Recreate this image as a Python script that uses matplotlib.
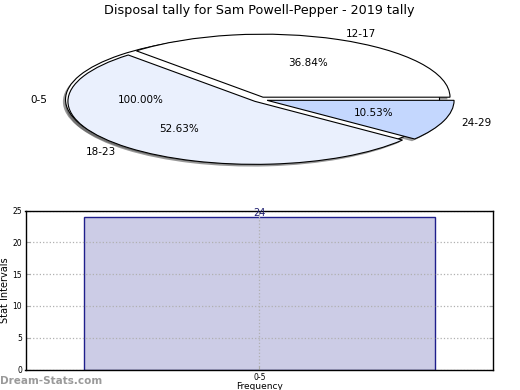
import matplotlib
matplotlib.use('Agg')
import matplotlib.pyplot as plt

# ---- data ----
title = "Disposal tally for Sam Powell-Pepper - 2019 tally"
base_labels = ['0-5']
base_values = [24]
slice_labels = ['12-17', '18-23', '24-29']
slice_values = [7, 10, 2]
slice_colors = ['#FFFFFF', '#EAF0FD', '#C4D7FE']
bar_categories = ['0-5']
bar_values = [24]
yticks = [0, 5, 10, 15, 20, 25]
watermark = 'Dream-Stats.com'

W, H = 520, 390
fig = plt.figure(figsize=(W / 100, H / 100), dpi=100)


def frac(l, t, r, b):
    return [l / W, 1 - b / H, (r - l) / W, (b - t) / H]


# ---- pie ----
cx, cy, rx, ry = 260, 99.5, 187, 63
top, bot = 20, 190
ax = fig.add_axes(frac(0, top, W, bot))
e = 0.04
wp = dict(edgecolor='black', linewidth=0.8)
tp = dict(fontsize=7.5, color='black')
shadow_off = (-0.014, -0.035)
# shadows
ax.pie(slice_values, explode=[e] * len(slice_values), colors=['#555555'] * len(slice_values),
       center=shadow_off, wedgeprops=dict(linewidth=0, alpha=0.6))
ax.pie(base_values, explode=[e], colors=['#555555'], center=shadow_off,
       wedgeprops=dict(linewidth=0, alpha=0.6))
# wedges
ax.pie(base_values, labels=base_labels, explode=[e], colors=['white'],
       autopct='%.2f%%', wedgeprops=wp, textprops=tp)
ax.pie(slice_values, labels=slice_labels, explode=[e] * len(slice_values),
       colors=slice_colors, autopct='%.2f%%', wedgeprops=wp, textprops=tp)
ax.set_xlim((0 - cx) / rx, (W - cx) / rx)
ax.set_ylim((cy - bot) / ry, (cy - top) / ry)
ax.set_aspect('auto')
ax.set_axis_off()

fig.text(259 / W, 1 - 10.5 / H, title, ha='center', va='center', fontsize=9.2)

# ---- bar ----
bx = fig.add_axes(frac(25.5, 210.5, 493, 369.5))
xpos = list(range(len(bar_categories)))
bars = bx.bar(xpos, bar_values, width=0.75, color='#CCCCE6', edgecolor='#1F1F8C',
              linewidth=1.0, zorder=1)
bx.set_xlim(-0.5, 0.5)
bx.set_ylim(yticks[0], yticks[-1])
bx.set_yticks(yticks)
bx.set_xticks(xpos, bar_categories)
bx.set_axisbelow(False)
bx.grid(True, linestyle=':', color='#B0B0B0', linewidth=0.9)
bx.tick_params(direction='in', length=3, color='#AAAAAA', top=True, right=True,
               labelsize=5.5, pad=2.5)
for s in bx.spines.values():
    s.set_linewidth(1.0)
    s.set_zorder(5)
bx.bar_label(bars, padding=-1, fontsize=7, color='#1F1F6F', zorder=6)
bx.set_ylabel('Stat Intervals', fontsize=7, labelpad=1.5)
bx.set_xlabel('Frequency', fontsize=6.5, labelpad=0)

fig.text(0, 1 - 380.5 / H, watermark, ha='left', va='center', fontsize=7.5,
         fontweight='bold', color='#9A9A9A')

fig.savefig('out.png', dpi=100)
